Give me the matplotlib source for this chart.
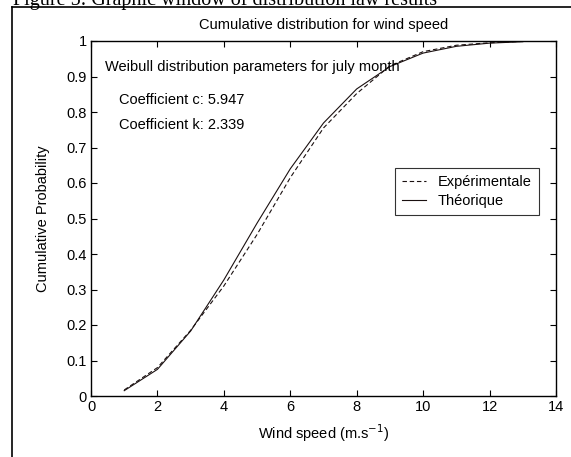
import numpy as np
import matplotlib
matplotlib.use("Agg")
import matplotlib.pyplot as plt
from matplotlib.lines import Line2D

speed = [1, 2, 3, 4, 5, 6, 7, 8, 9, 10, 11, 12, 13]
experimental = [0.017, 0.080, 0.185, 0.310, 0.455, 0.615, 0.755, 0.852, 0.930,
                0.970, 0.988, 0.995, 0.999]
theoretical = [0.015, 0.075, 0.183, 0.327, 0.487, 0.640, 0.769, 0.865, 0.928,
               0.966, 0.985, 0.994, 0.998]
xticks = np.arange(0, 15, 2)
yticks = np.round(np.arange(0, 1.01, 0.1), 1)
ytick_labels = ["0", "0.1", "0.2", "0.3", "0.4", "0.5", "0.6", "0.7", "0.8", "0.9", "1"]

plt.rcParams['font.family'] = ['Liberation Sans', 'DejaVu Sans']
W, H = 571, 457
fig = plt.figure(figsize=(W/100, H/100), dpi=100)

# outer frame of the figure window (top and left visible)
fig.add_artist(Line2D([12/W, 12/W], [0, 1 - 7/H], color='black', lw=1.2, transform=fig.transFigure))
fig.add_artist(Line2D([12/W, 1], [1 - 7/H, 1 - 7/H], color='black', lw=1.2, transform=fig.transFigure))
# caption of the source document, cropped at the top edge like in the original
fig.text(13/W, 1 - 5/H, "Figure 5: Graphic window of distribution law results",
         fontsize=14.5, family='Liberation Serif', va='baseline', ha='left')

ax = fig.add_axes([91/W, 1 - 396/H, (556-91)/W, (396-41)/H])
ax.plot(speed, experimental, '--', color='#1a1010', lw=0.8, dashes=(4, 2.5), label='Expérimentale')
ax.plot(speed, theoretical, '-', color='#1a1010', lw=0.8, label='Théorique')

ax.set_xlim(0, 14)
ax.set_ylim(0, 1)
ax.set_xticks(xticks)
ax.set_yticks(yticks)
ax.set_yticklabels(ytick_labels)
ax.tick_params(direction='in', top=True, right=True, length=4, width=0.8, labelsize=10.5, pad=3)
for s in ax.spines.values():
    s.set_linewidth(1.0)

ax.set_title("Cumulative distribution for wind speed", fontsize=10.5, pad=9)
ax.set_xlabel("Wind speed (m.s$^{-1}$)", fontsize=10.5, labelpad=6)
ax.set_ylabel("Cumulative Probability", fontsize=10.5, labelpad=12)

ax.text(0.42, 0.927, "Weibull distribution parameters for july month", fontsize=10.5, va='center')
ax.text(0.84, 0.833, "Coefficient c: 5.947", fontsize=10.5, va='center')
ax.text(0.84, 0.762, "Coefficient k: 2.339", fontsize=10.5, va='center')

leg = ax.legend(loc='upper left', bbox_to_anchor=(0.654, 0.642), fontsize=10.5,
                frameon=True, fancybox=False, edgecolor='black', handlelength=1.6,
                handletextpad=0.8, borderpad=0.5, labelspacing=0.3, borderaxespad=0)
leg.get_frame().set_linewidth(0.8)

fig.savefig("out.png", dpi=100)
